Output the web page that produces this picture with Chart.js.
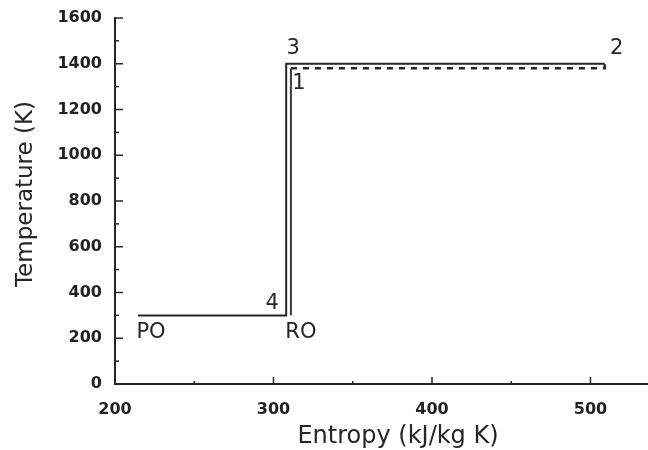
<!DOCTYPE html>
<html lang="en">
<head>
  <meta charset="UTF-8">
  <title>Temperature - Entropy</title>
  <script src="https://cdn.jsdelivr.net/npm/chart.js"></script>
  <style>
    html, body { margin: 0; padding: 0; background: #fff; }
    #wrap { width: 648px; height: 450px; }
  </style>
</head>
<body>

<div id="wrap"><canvas id="grafik" width="648" height="450"></canvas></div>

<script>
  // cycle data (entropy in kJ/kg K, temperature in K)
  const entropyOuter = [214.5, 308, 308, 509];
  const tempOuter = [300, 300, 1400, 1400];
  const entropyInner = [311, 311];
  const tempInner = [300, 1380];
  const entropyDashed = [311, 509, 509];
  const tempDashed = [1380, 1380, 1400];

  // state point names and where they sit
  const stateNames = ['PO', '4', '3', '2', '1', 'RO'];
  const stateEntropy = [214.5, 308, 308, 509, 311, 311];
  const stateTemp = [300, 300, 1400, 1400, 1380, 300];

  const xLabelTicks = [200, 300, 400, 500];
  const yLabelTicks = [0, 200, 400, 600, 800, 1000, 1200, 1400, 1600];

  const ink = '#262626';
  const labelFont = 'DejaVu Sans';

  function titik(xs, ys) {
    return xs.map((x, i) => ({ x: x, y: ys[i] }));
  }

  // text offsets (px) of each state name from its point
  const geser = { 'PO': [13, 17], '4': [-14, -12], '3': [7, -15], '2': [12, -15], '1': [8, 15], 'RO': [10, 17] };

  const tickDalam = {
    id: 'tickDalam',
    afterDatasetsDraw(chart) {
      const ctx = chart.ctx;
      const xs = chart.scales.x, ys = chart.scales.y;
      ctx.save();
      ctx.strokeStyle = ink;
      ctx.lineWidth = 1.5;
      ys.ticks.forEach(t => {
        if (t.value % 100 !== 0) return;
        const len = t.value % 200 === 0 ? 8 : 4;
        const py = ys.getPixelForValue(t.value);
        ctx.beginPath();
        ctx.moveTo(xs.left, py);
        ctx.lineTo(xs.left + len, py);
        ctx.stroke();
      });
      xs.ticks.forEach(t => {
        if (t.value % 50 !== 0) return;
        const len = t.value % 100 === 0 ? 7 : 3;
        const px = xs.getPixelForValue(t.value);
        ctx.beginPath();
        ctx.moveTo(px, ys.bottom);
        ctx.lineTo(px, ys.bottom - len);
        ctx.stroke();
      });
      ctx.restore();
    }
  };

  const tulisan = {
    id: 'tulisan',
    afterDraw(chart) {
      const ctx = chart.ctx;
      const xs = chart.scales.x, ys = chart.scales.y;
      ctx.save();
      ctx.fillStyle = ink;
      ctx.textAlign = 'center';
      ctx.textBaseline = 'middle';
      ctx.font = '21px "' + labelFont + '"';
      stateNames.forEach((n, i) => {
        const px = xs.getPixelForValue(stateEntropy[i]) + geser[n][0];
        const py = ys.getPixelForValue(stateTemp[i]) + geser[n][1];
        ctx.fillText(n, px, py);
      });

      // axis titles
      ctx.textBaseline = 'alphabetic';
      ctx.font = '24px "' + labelFont + '"';
      ctx.fillText('Entropy (kJ/kg K)', 398, 443);
      ctx.font = '23px "' + labelFont + '"';
      ctx.translate(32, 194);
      ctx.rotate(-Math.PI / 2);
      ctx.fillText('Temperature (K)', 0, 0);
      ctx.restore();
    }
  };

  const garis = { borderColor: ink, borderWidth: 2, pointRadius: 0, showLine: true, tension: 0, fill: false };

  new Chart(document.getElementById('grafik').getContext('2d'), {
    type: 'scatter',
    data: {
      datasets: [
        Object.assign({ label: 'outer', data: titik(entropyOuter, tempOuter) }, garis),
        Object.assign({ label: 'inner', data: titik(entropyInner, tempInner) }, garis, { borderColor: '#3a3a3a' }),
        Object.assign({ label: 'dashed', data: titik(entropyDashed, tempDashed) }, garis, { borderDash: [6, 6], borderWidth: 2.5 })
      ]
    },
    options: {
      responsive: false,
      animation: false,
      layout: { padding: { top: 18, right: 0, bottom: 0, left: 0 } },
      plugins: { legend: { display: false }, tooltip: { enabled: false } },
      scales: {
        x: {
          type: 'linear',
          min: 200,
          max: 536.3,
          grid: { display: false, drawTicks: false },
          border: { display: true, color: ink, width: 2 },
          afterFit(s) { s.height = 66; s.paddingLeft = 0; s.paddingRight = 0; },
          ticks: {
            stepSize: 50,
            includeBounds: false,
            autoSkip: false,
            maxRotation: 0,
            padding: 16,
            color: '#222',
            font: { family: labelFont, size: 16, weight: 'bold' },
            callback: v => xLabelTicks.includes(v) ? String(v) : ''
          }
        },
        y: {
          type: 'linear',
          min: 0,
          max: 1600,
          grid: { display: false, drawTicks: false },
          border: { display: true, color: ink, width: 2 },
          afterFit(s) { s.width = 115; s.paddingTop = 0; s.paddingBottom = 0; },
          ticks: {
            stepSize: 100,
            autoSkip: false,
            padding: 13,
            color: '#222',
            font: { family: labelFont, size: 16, weight: 'bold' },
            callback: v => yLabelTicks.includes(v) ? String(v) : ''
          }
        }
      }
    },
    plugins: [tickDalam, tulisan]
  });
</script>

</body>
</html>
